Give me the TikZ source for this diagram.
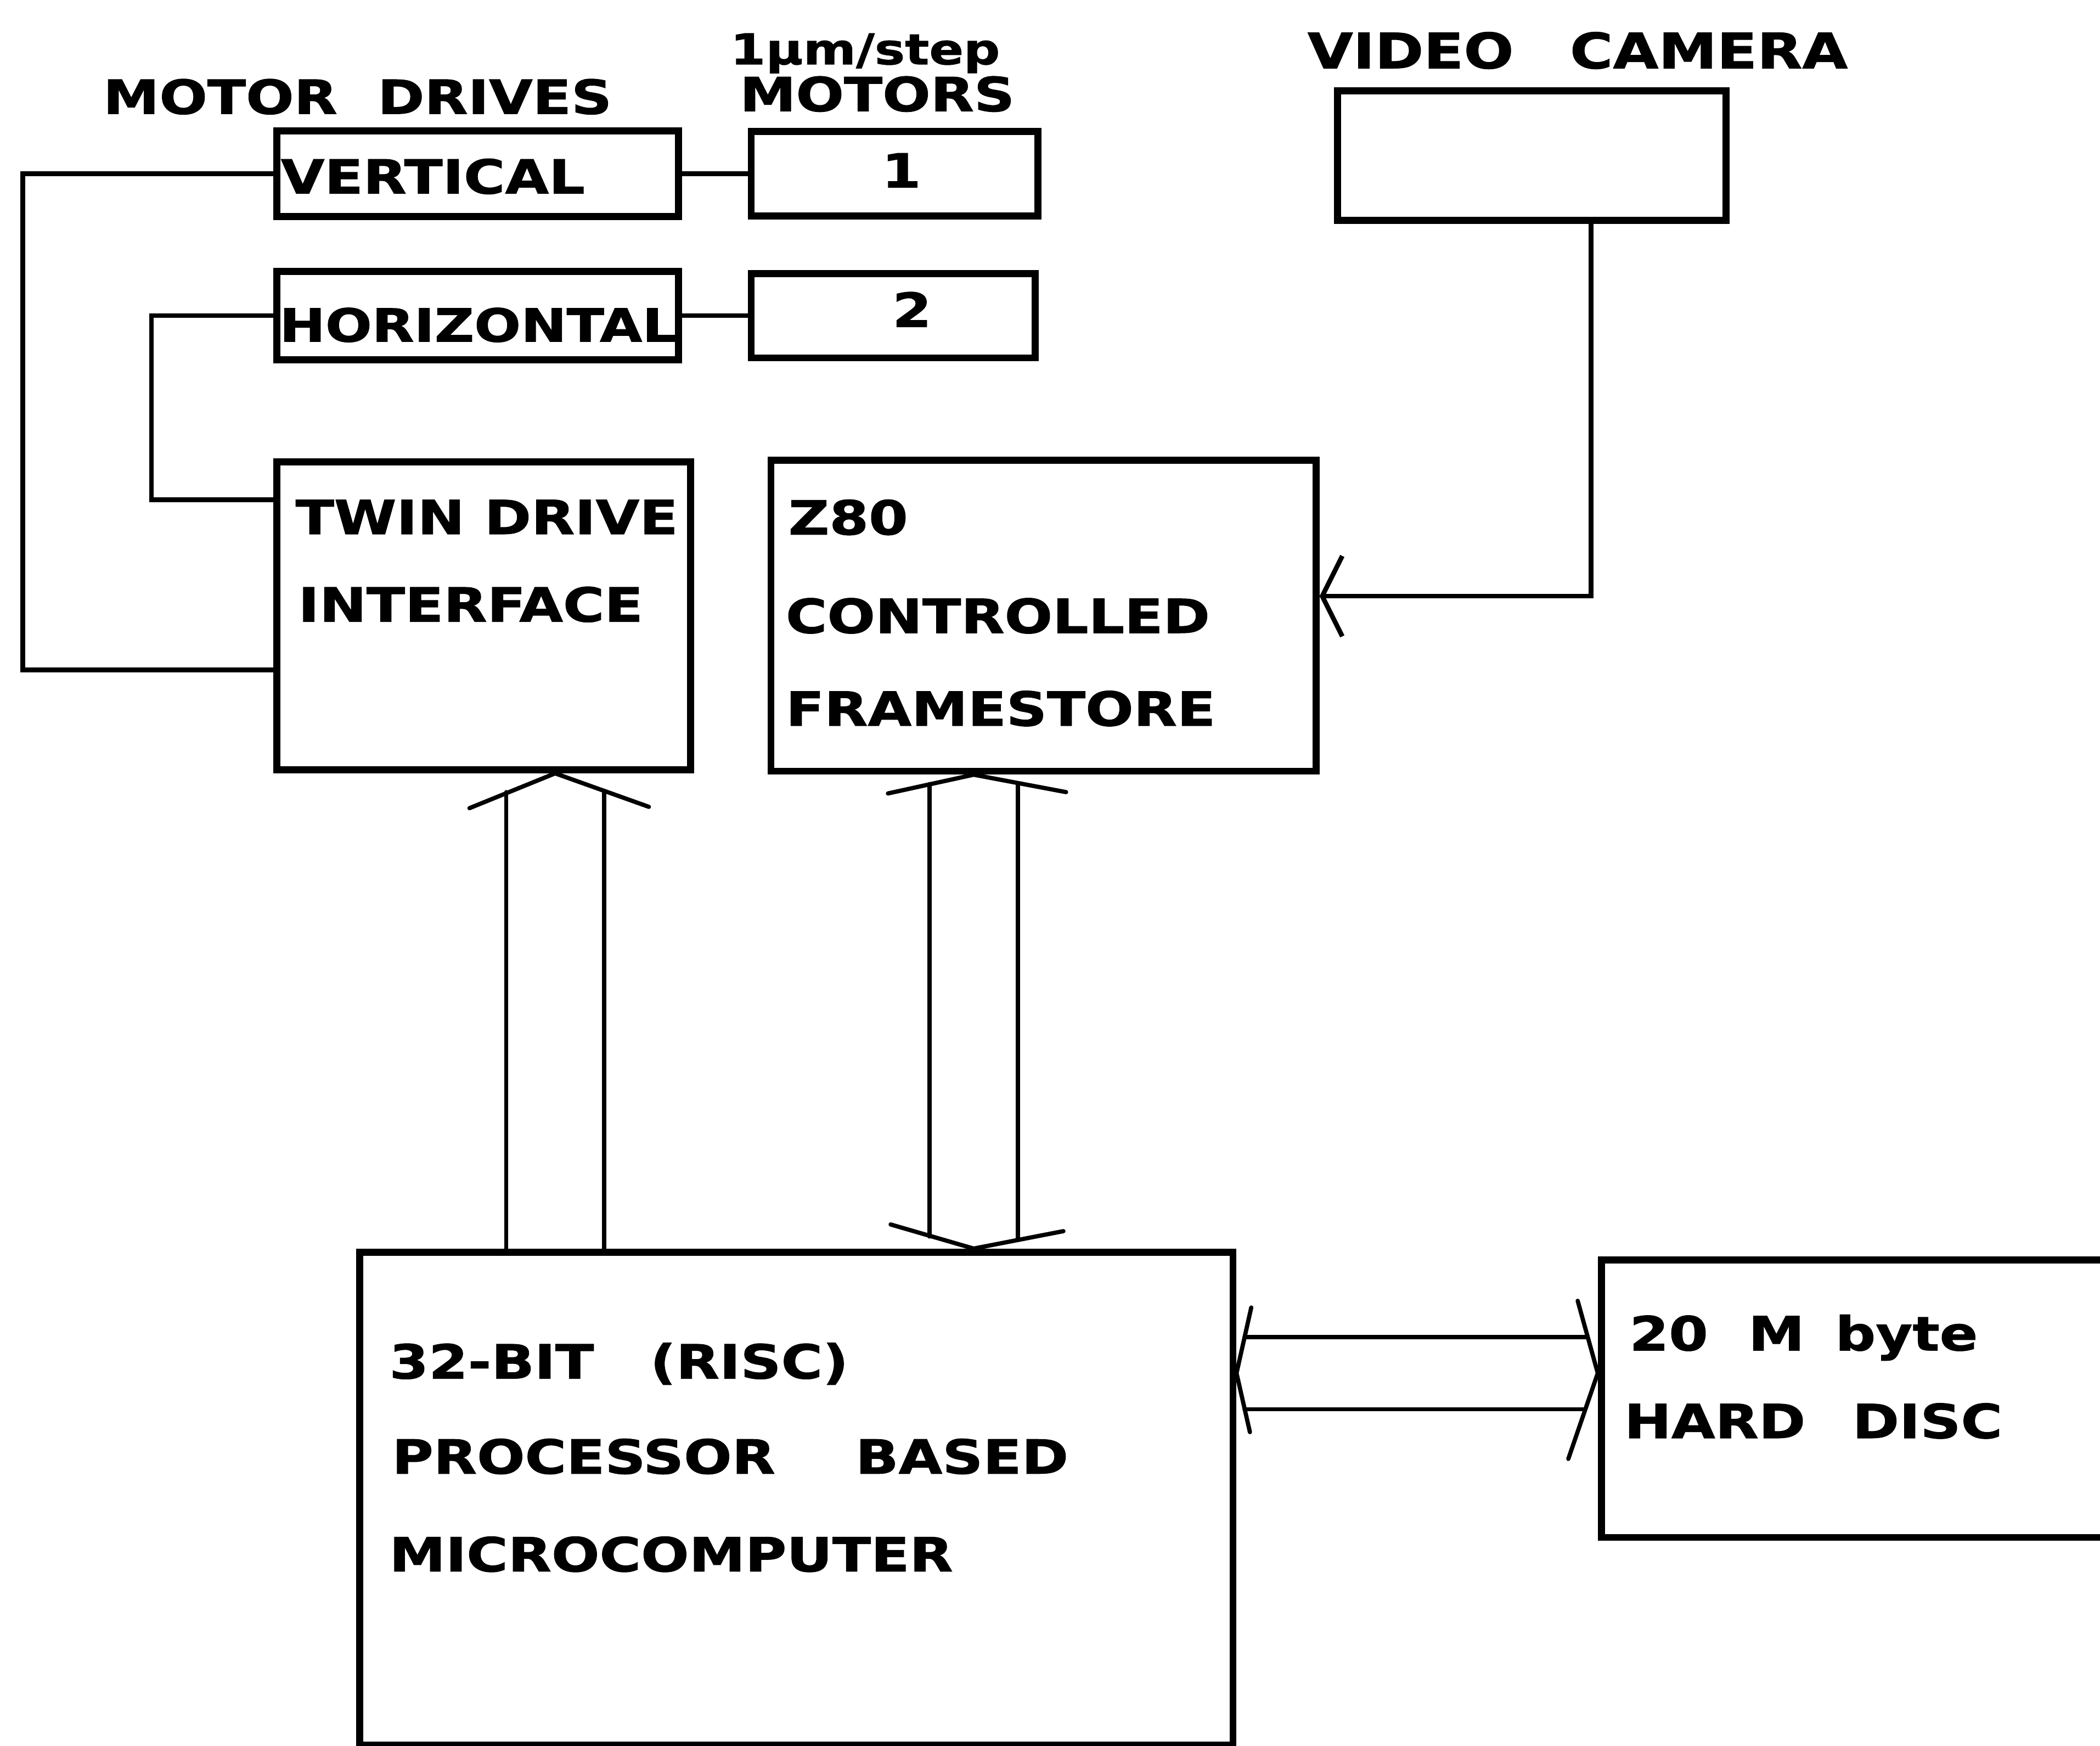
\documentclass[tikz,border=0pt]{standalone}
\usepackage{fontspec}
\setmainfont{DejaVu Sans}[FakeStretch=1.2, BoldFeatures={FakeBold=1.2}]
\usetikzlibrary{positioning,calc,arrows.meta}

\tikzset{
    blk/.style={draw, line width=1.5pt, inner sep=0pt, anchor=north west},
    lbl/.style={font=\bfseries\fontsize{10}{12}\selectfont, inner sep=0pt, anchor=base west},
    toplbl/.style={lbl, anchor=base},
    % Connectors
    wire/.style={line width=1pt},
    bus/.style={line width=0.9pt, line cap=round},
    camarr/.style={wire, -{Straight Barb[length=1.5mm, width=6mm]}}
}

\begin{document}
\begin{tikzpicture}[x=0.1mm, y=-0.1mm]
\useasboundingbox (0,0) rectangle (1568,1303);

% motor drives and motors
\node[blk, minimum width=30mm, minimum height=6.4mm] (vert) at (204,95) {};
\node[blk, minimum width=30mm, minimum height=6.6mm] (hori) at (204,200) {};
\node[blk, minimum width=21.4mm, minimum height=6.3mm, right=4.9mm of vert] (mot1) {};
\node[blk, minimum width=21.2mm, minimum height=6.3mm, right=4.9mm of hori] (mot2) {};

% main units
\node[blk, minimum width=29mm, minimum height=9.7mm] (cam) at (996,65) {};
\node[blk, minimum width=30.9mm, minimum height=23mm] (twin) at (204,342) {};
\node[blk, minimum width=40.7mm, minimum height=23.2mm] (frame) at (573,341) {};
\node[blk, minimum width=65.2mm, minimum height=36.8mm] (micro) at (266,932) {};
\node[blk, minimum width=42mm, minimum height=20.7mm] (disc) at (1193,938) {};

% headings
\node[toplbl] (drvlbl) at (267,85) {MOTOR\hspace{3mm}DRIVES};
\node[toplbl, font=\bfseries\fontsize{9}{11}\selectfont] (steplbl) at (646,48) {1µm/step};
\node[toplbl] (motlbl) at (655,83) {MOTORS};
\node[toplbl, font=\bfseries\fontsize{10.4}{12}\selectfont] (camlbl) at (1178,51) {VIDEO\hspace{4.2mm}CAMERA};

% box texts
\node[lbl] (vertlbl) at (209,144.5) {VERTICAL};
\node[lbl, font=\bfseries\fontsize{9.7}{12}\selectfont] (horilbl) at (208,255) {HORIZONTAL};
\node[toplbl] (onelbl) at (673,140) {1};
\node[toplbl] (twolbl) at (681,244) {2};
\node[lbl] (twinA) at (220,398.7) {TWIN DRIVE};
\node[lbl] (twinB) at (222,464) {INTERFACE};
\node[lbl] (fsA) at (588,399) {Z80};
\node[lbl] (fsB) at (586,472.5) {CONTROLLED};
\node[lbl] (fsC) at (586,541.7) {FRAMESTORE};
\node[lbl] (mcA) at (290,1029) {32-BIT\hspace{4.2mm}(RISC)};
\node[lbl] (mcB) at (292,1100) {PROCESSOR\hspace{6mm}BASED};
\node[lbl] (mcC) at (290,1173) {MICROCOMPUTER};
\node[lbl] (dkA) at (1216,1008) {20\hspace{3mm}M\hspace{2.3mm}byte};
\node[lbl] (dkB) at (1212,1073.5) {HARD\hspace{3.5mm}DISC};

% wiring
\coordinate (lpv) at (17,500);
\coordinate (lph) at (113,373);
\coordinate (camx) at (1188,445);
\draw[wire] (vert) -- (mot1);
\draw[wire] (hori) -- (mot2);
\draw[wire] (vert.west) -| (lpv) -- (lpv -| twin.west);
\draw[wire] (hori.west) -| (lph) -- (lph -| twin.west);
\draw[camarr] (cam.south -| camx) |- (camx -| frame.east);

% buses
\coordinate (bA) at (414.5,750);
\coordinate (bB) at (727,750);
\coordinate (bC) at (1050,1025);
\draw[bus] ($(micro.north -| bA)+(-36.5,0)$) -- ($(twin.south -| bA)+(-36.5,14)$);
\draw[bus] ($(micro.north -| bA)+(36.5,0)$) -- ($(twin.south -| bA)+(36.5,13)$);
\draw[bus] ($(twin.south -| bA)+(-64,26)$) -- (twin.south -| bA) -- ++(70,25);

\draw[bus] ($(frame.south -| bB)+(-33,7)$) -- ($(micro.north -| bB)+(-33,-9)$);
\draw[bus] ($(frame.south -| bB)+(33,7)$) -- ($(micro.north -| bB)+(33,-7)$);
\draw[bus] ($(frame.south -| bB)+(-64,14)$) -- (frame.south -| bB) -- ++(69,13);
\draw[bus] ($(micro.north -| bB)+(-62,-18)$) -- (micro.north -| bB) -- ++(67,-13);

\draw[bus] ($(micro.east |- bC)+(6,-27)$) -- ($(disc.west |- bC)+(-8,-27)$);
\draw[bus] ($(micro.east |- bC)+(6,27)$) -- ($(disc.west |- bC)+(-10,27)$);
\draw[bus] ($(micro.east |- bC)+(11,-49)$) -- (micro.east |- bC) -- ++(10,44);
\draw[bus] ($(disc.west |- bC)+(-15,-54)$) -- (disc.west |- bC) -- ++(-22,64);
\end{tikzpicture}
\end{document}
